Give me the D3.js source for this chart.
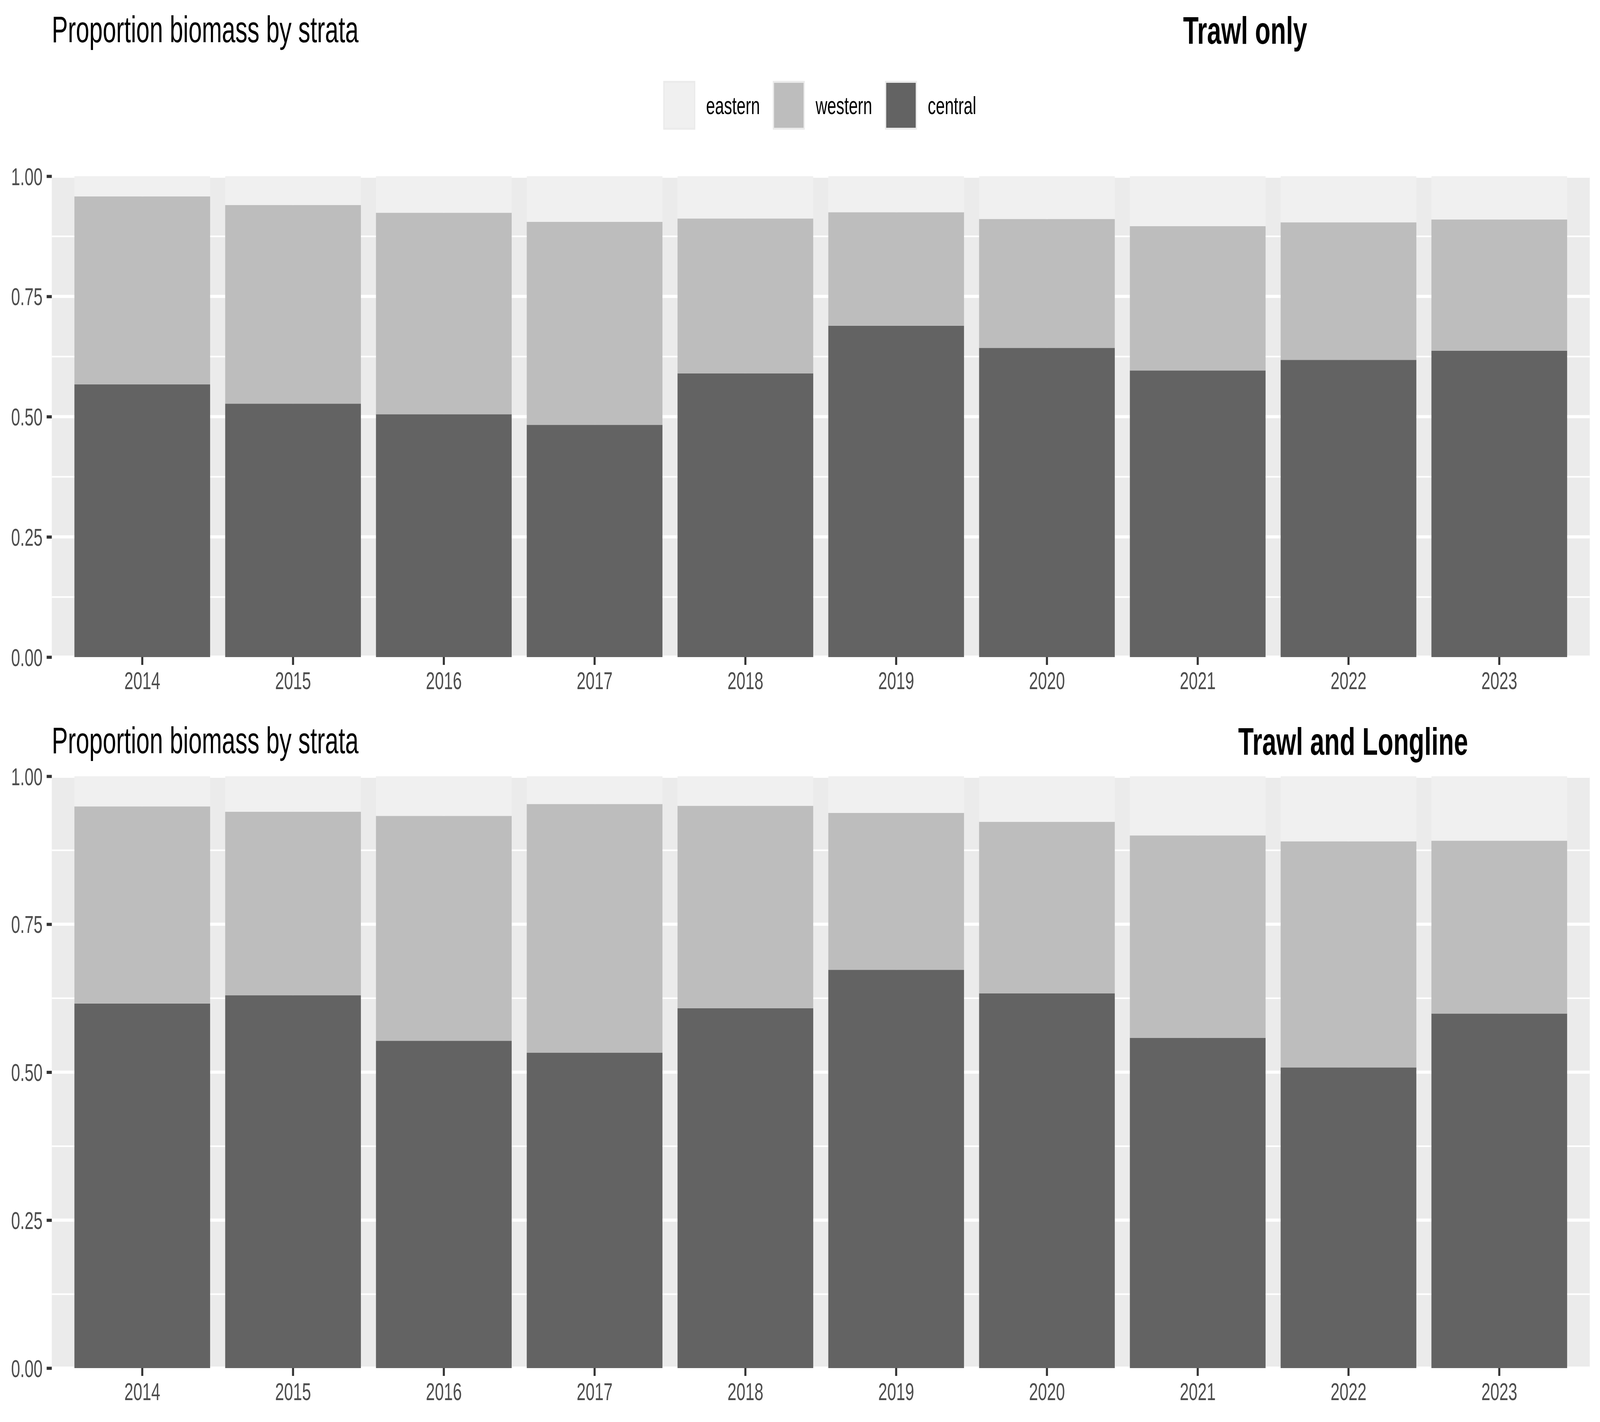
<!DOCTYPE html>
<html>
<head>
<meta charset="utf-8">
<script src="https://cdn.jsdelivr.net/npm/d3@7"></script>
<style>
  html, body { margin: 0; padding: 0; background: #ffffff; overflow: hidden; width: 100%; height: 100%; }
  svg { display: block; }
  text { font-family: "Liberation Sans", Arial, Helvetica, sans-serif; }
</style>
</head>
<body>
<svg id="chart" viewBox="0 0 6240 3640" preserveAspectRatio="none" style="width:100vw;height:100vh"></svg>
<script>
// ---------------- data ----------------
const years = ["2014", "2015", "2016", "2017", "2018", "2019", "2020", "2021", "2022", "2023"];
const strata = ["eastern", "western", "central"];           // legend order
const stackOrder = ["central", "western", "eastern"];        // bottom -> top
const strataColors = ["#F0F0F0", "#BDBDBD", "#636363"];
const yTicks = [0, 0.25, 0.5, 0.75, 1];
const yTickLabels = ["0.00", "0.25", "0.50", "0.75", "1.00"];
const yMinorTicks = [0.125, 0.375, 0.625, 0.875];

// Trawl only
const trawlCentral = [0.567, 0.527, 0.505, 0.483, 0.590, 0.689, 0.643, 0.596, 0.618, 0.637];
const trawlWestern = [0.391, 0.413, 0.419, 0.422, 0.322, 0.236, 0.268, 0.300, 0.286, 0.273];
const trawlEastern = [0.042, 0.060, 0.076, 0.095, 0.088, 0.075, 0.089, 0.104, 0.096, 0.090];

// Trawl and Longline
const tlCentral = [0.616, 0.630, 0.553, 0.533, 0.608, 0.673, 0.633, 0.558, 0.508, 0.599];
const tlWestern = [0.333, 0.310, 0.380, 0.420, 0.342, 0.265, 0.290, 0.342, 0.382, 0.292];
const tlEastern = [0.051, 0.060, 0.067, 0.047, 0.050, 0.062, 0.077, 0.100, 0.110, 0.109];

const mainTitle = "Proportion biomass by strata";
const panelTitles = ["Trawl only", "Trawl and Longline"];

// ---------------- drawing ----------------
const svg = d3.select("#chart");
const color = d3.scaleOrdinal().domain(strata).range(strataColors);

const panelLeft = 202, panelRight = 6200;
const x = d3.scaleBand().domain(years).range([panelLeft, panelRight])
  .paddingInner(0.1).paddingOuter(0.15);

function buildRows(c, w, e) {
  return years.map((yr, i) => ({ year: yr, central: c[i], western: w[i], eastern: e[i] }));
}

const panels = [
  { rows: buildRows(trawlCentral, trawlWestern, trawlEastern), top: 451, bottom: 1682,
    titleY: 108, subX: 4614, subY: 112, sub: panelTitles[0] },
  { rows: buildRows(tlCentral, tlWestern, tlEastern), top: 1987, bottom: 3502,
    titleY: 1928, subX: 4829, subY: 1932, sub: panelTitles[1] }
];

const stack = d3.stack().keys(stackOrder);

panels.forEach(p => {
  const y = d3.scaleLinear().domain([0, 1]).range([p.bottom, p.top]);
  const g = svg.append("g");

  g.append("rect").attr("x", panelLeft).attr("y", y(1))
    .attr("width", panelRight - panelLeft).attr("height", y(0) - y(1))
    .attr("fill", "#EBEBEB");

  g.selectAll(".minor").data(yMinorTicks).join("line")
    .attr("x1", panelLeft).attr("x2", panelRight)
    .attr("y1", d => y(d)).attr("y2", d => y(d))
    .attr("stroke", "#ffffff").attr("stroke-width", 4);
  g.selectAll(".major").data(yTicks).join("line")
    .attr("x1", panelLeft).attr("x2", panelRight)
    .attr("y1", d => y(d)).attr("y2", d => y(d))
    .attr("stroke", "#ffffff").attr("stroke-width", 8);
  g.selectAll(".vmajor").data(years).join("line")
    .attr("x1", d => x(d) + x.bandwidth() / 2).attr("x2", d => x(d) + x.bandwidth() / 2)
    .attr("y1", y(0)).attr("y2", y(1))
    .attr("stroke", "#ffffff").attr("stroke-width", 8);

  const series = stack(p.rows);
  g.selectAll(".layer").data(series).join("g")
    .attr("fill", d => color(d.key))
    .selectAll("rect").data(d => d).join("rect")
    .attr("x", d => x(d.data.year))
    .attr("width", x.bandwidth())
    .attr("y", d => y(d[1]))
    .attr("height", d => y(d[0]) - y(d[1]));

  const yAxis = d3.axisLeft(y).tickValues(yTicks)
    .tickFormat((d, i) => yTickLabels[i]).tickSize(20).tickPadding(16);
  const ya = g.append("g").attr("transform", `translate(${panelLeft},0)`).call(yAxis);
  ya.select(".domain").remove();
  ya.selectAll(".tick line").attr("stroke", "#333333").attr("stroke-width", 8);
  ya.selectAll(".tick text").attr("fill", "#4D4D4D")
    .style("font-size", "63px").style("font-family", '"Liberation Sans", Arial, sans-serif')
    .attr("dy", "0.35em");

  const xAxis = d3.axisBottom(x).tickSize(20).tickPadding(17);
  const xa = g.append("g").attr("transform", `translate(0,${p.bottom})`).call(xAxis);
  xa.select(".domain").remove();
  xa.selectAll(".tick line").attr("stroke", "#333333").attr("stroke-width", 8);
  xa.selectAll(".tick text").attr("fill", "#4D4D4D")
    .style("font-size", "63px").style("font-family", '"Liberation Sans", Arial, sans-serif');

  svg.append("text").attr("x", panelLeft).attr("y", p.titleY)
    .style("font-size", "94px").attr("fill", "#000").text(mainTitle);
  svg.append("text").attr("x", p.subX).attr("y", p.subY)
    .style("font-size", "99px").style("font-weight", "bold").attr("fill", "#000").text(p.sub);
});

// legend
const legend = svg.append("g");
const keySize = 125, keyTextGap = 42, itemGap = 50, keyTop = 207;
let cursor = 0;
strata.forEach(s => {
  const it = legend.append("g");
  it.append("rect").attr("x", 0).attr("y", keyTop).attr("width", keySize).attr("height", keySize)
    .attr("fill", "#EBEBEB");
  it.append("rect").attr("x", 5).attr("y", keyTop + 5).attr("width", keySize - 10).attr("height", keySize - 10)
    .attr("fill", color(s));
  const t = it.append("text").attr("x", keySize + keyTextGap).attr("y", 292)
    .style("font-size", "63px").attr("fill", "#000").text(s);
  const w = t.node().getComputedTextLength();
  it.attr("transform", `translate(${cursor},0)`);
  cursor += keySize + keyTextGap + w + itemGap;
});
const legendWidth = cursor - itemGap;
const legendStart = (panelLeft + panelRight) / 2 - legendWidth / 2 - 4;
legend.attr("transform", `translate(${legendStart},0)`);
</script>
</body>
</html>
